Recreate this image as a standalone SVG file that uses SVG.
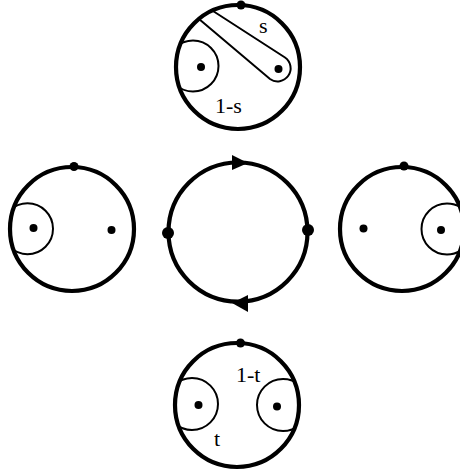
<svg xmlns="http://www.w3.org/2000/svg" width="460" height="476" viewBox="0 0 460 476">
<style>
.big{fill:none;stroke:#000;stroke-width:4.2}
.thin{fill:none;stroke:#000;stroke-width:2}
.dot{fill:#000}
.lbl{font-family:"Liberation Serif","Times New Roman",serif;font-size:22px;fill:#000}
</style>
<defs>
<clipPath id="cT"><circle cx="238" cy="67" r="62"/></clipPath>
<clipPath id="cL"><circle cx="72" cy="229" r="62"/></clipPath>
<clipPath id="cR"><circle cx="402" cy="229" r="62"/></clipPath>
<clipPath id="cB"><circle cx="237" cy="405" r="62"/></clipPath>
</defs>
<rect width="460" height="476" fill="#fff"/>

<g id="top">
<g clip-path="url(#cT)">
<circle class="thin" cx="193" cy="66" r="25.5"/>
<path class="thin" d="M213,11 L285,57.5 A12.8 12.8 0 1 1 270,79 L199,19"/>
</g>
<circle class="big" cx="238" cy="67" r="62"/>
<circle class="dot" cx="241" cy="5" r="4.5"/>
<circle class="dot" cx="201" cy="67" r="4"/>
<circle class="dot" cx="278.5" cy="69" r="4"/>
<text class="lbl" x="259" y="33">s</text>
<text class="lbl" x="215" y="113">1-s</text>
</g>

<g id="left">
<g clip-path="url(#cL)">
<circle class="thin" cx="27.5" cy="228.7" r="25.5"/>
</g>
<circle class="big" cx="72" cy="229" r="62"/>
<circle class="dot" cx="74" cy="166.5" r="4.5"/>
<circle class="dot" cx="33.5" cy="228" r="4"/>
<circle class="dot" cx="111.5" cy="230" r="4"/>
</g>

<g id="center">
<circle class="big" cx="238" cy="232" r="69.5" stroke-width="4.6"/>
<path class="dot" d="M232,155 L248,163 L232,170 Z"/>
<path class="dot" d="M248,295 L232,303 L248,312 Z"/>
<circle class="dot" cx="168" cy="233" r="6"/>
<circle class="dot" cx="308" cy="230" r="6"/>
</g>

<g id="right">
<g clip-path="url(#cR)">
<circle class="thin" cx="447" cy="229" r="25.5"/>
</g>
<circle class="big" cx="402" cy="229" r="62"/>
<circle class="dot" cx="404" cy="166" r="4.5"/>
<circle class="dot" cx="363.5" cy="228.5" r="4"/>
<circle class="dot" cx="441" cy="230" r="4"/>
</g>

<g id="bottom">
<g clip-path="url(#cB)">
<circle class="thin" cx="192" cy="404" r="26"/>
<circle class="thin" cx="283" cy="405" r="26"/>
</g>
<circle class="big" cx="237" cy="405" r="62"/>
<circle class="dot" cx="240.5" cy="343" r="4.5"/>
<circle class="dot" cx="198.5" cy="405" r="4"/>
<circle class="dot" cx="277" cy="406.5" r="4"/>
<text class="lbl" x="236" y="382">1-t</text>
<text class="lbl" x="214" y="446">t</text>
</g>

<g id="connectors"/>
</svg>
